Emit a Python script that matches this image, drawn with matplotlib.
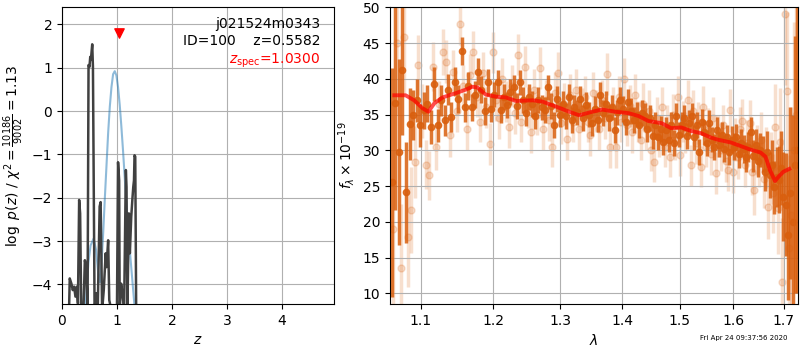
import matplotlib
matplotlib.use("Agg")
import matplotlib.pyplot as plt
import numpy as np

# p(z) from the fit (dark) and the prior-ish smooth curve (blue)
z_pz = [0.128, 0.141, 0.171, 0.196, 0.22, 0.245, 0.27, 0.29, 0.312, 0.33, 0.35, 0.39,
        0.416, 0.44, 0.465, 0.483, 0.50, 0.514, 0.526, 0.55, 0.563, 0.593, 0.62, 0.65,
        0.685, 0.703, 0.73, 0.76, 0.795, 0.81, 0.84, 0.86, 0.90, 1.0, 1.02, 1.04, 1.05,
        1.076, 1.10, 1.13, 1.162, 1.174, 1.19, 1.217, 1.235, 1.26, 1.28, 1.297, 1.31,
        1.32, 1.333, 1.35, 1.40]
logp = [-4.6, -3.86, -3.98, -4.13, -4.05, -4.28, -4.05, -4.44, -2.05, -2.36, -4.6, -4.6,
        -3.44, -3.6, -4.6, 1.06, 1.02, 1.25, 1.18, 1.54, 1.02, -4.6, -4.2, -4.6,
        -2.2, -2.1, -4.6, -4.13, -3.28, -3.6, -2.98, -4.36, -4.6, -4.6, -1.18, -1.6, -4.6,
        -3.98, -4.2, -4.6, -1.36, -1.75, -4.6, -2.36, -3.28, -2.44, -2.05, -1.75, -1.6,
        -1.02, -1.05, -4.6, -4.6]

z_prior = [0.40, 0.44, 0.48, 0.52, 0.575, 0.62, 0.66, 0.69, 0.72, 0.75, 0.78, 0.81,
           0.84, 0.87, 0.90, 0.93, 0.96, 0.99, 1.02, 1.05, 1.08, 1.11, 1.14, 1.17,
           1.20, 1.23, 1.26, 1.29, 1.32, 1.35]
logp_prior = [-4.9, -4.3, -3.5, -3.1, -2.94, -3.2, -3.75, -3.95, -3.5, -2.8, -2.0, -1.25,
              -0.5, 0.1, 0.55, 0.85, 0.92, 0.82, 0.55, 0.15, -0.35, -0.9, -1.5, -2.1,
              -2.65, -3.15, -3.6, -4.05, -4.5, -4.9]

z_best = 0.5582
z_spec = 1.03
chi2_num, chi2_den = 10186, 9002

# spectrum, two sets of grism pixels (G141 sampling)
wave_a = 1.0620 + 0.00465 * np.arange(144)
flux_a = [25.5, 36.6, 29.8, 41.2, 24.1, 33.7, 34.9, 37.0, 33.5, 35.6,
          36.5, 33.3, 39.3, 33.5, 37.0, 34.2, 38.5, 34.7, 39.6, 37.2,
          43.9, 36.0, 39.0, 36.0, 37.8, 41.0, 38.5, 35.5, 39.5, 35.8,
          37.8, 39.5, 35.6, 37.5, 36.3, 38.2, 38.8, 36.2, 39.5, 37.0,
          35.2, 37.5, 36.5, 34.8, 37.0, 36.0, 35.6, 38.8, 36.2, 33.5,
          37.2, 35.0, 36.5, 34.8, 37.5, 34.2, 36.0, 35.3, 37.2, 34.5,
          36.3, 35.0, 33.8, 35.8, 34.3, 37.8, 35.2, 36.5, 34.5, 36.0,
          32.8, 35.3, 37.0, 35.8, 34.0, 36.8, 35.5, 34.2, 35.0, 33.5,
          35.2, 34.8, 33.0, 34.5, 32.0, 33.5, 31.8, 33.0, 31.2, 32.8,
          31.5, 33.5, 31.0, 34.8, 32.2, 33.6, 34.5, 32.0, 33.8, 34.8,
          31.8, 33.5, 29.8, 34.0, 32.5, 31.0, 33.8, 31.5, 30.5, 32.8,
          30.8, 32.2, 30.2, 31.8, 29.8, 31.5, 30.5, 31.8, 29.5, 31.0,
          30.2, 29.0, 30.5, 32.5, 29.2, 30.8, 28.5, 30.0, 29.5, 27.0,
          29.8, 26.5, 28.0, 24.8, 26.3, 25.9, 27.5, 23.5, 22.4, 18.2,
          24.0, 20.0, 28.0, 30.0]
err_a = [16, 15, 13, 9, 7, 5, 3.5, 3, 3, 2.6,
         2.6, 2.4, 2.4, 2.3, 2.2, 2.2, 2.2, 2.1, 2.0, 2.0,
         2.0, 2.0, 2.0, 1.9, 1.9, 1.9, 1.9, 1.9, 1.9, 1.8,
         1.8, 1.8, 1.8, 1.8, 1.8, 1.8, 1.8, 1.8, 1.8, 1.8,
         1.8, 1.8, 1.8, 1.8, 1.8, 1.8, 1.8, 1.8, 1.8, 1.8,
         1.8, 1.8, 1.8, 1.8, 1.8, 1.8, 1.8, 1.8, 1.8, 1.8,
         1.8, 1.8, 1.8, 1.8, 1.8, 1.8, 1.8, 1.8, 1.8, 1.8,
         1.8, 1.8, 1.8, 1.8, 1.8, 1.8, 1.8, 1.8, 1.8, 1.8,
         1.8, 1.8, 1.8, 1.8, 1.8, 1.8, 1.8, 1.8, 1.8, 1.8,
         1.8, 1.8, 1.8, 1.8, 1.8, 1.8, 1.8, 1.8, 1.8, 1.8,
         1.8, 1.8, 1.8, 1.8, 1.8, 1.8, 1.8, 1.8, 1.8, 1.8,
         1.8, 1.8, 1.8, 1.8, 1.9, 1.9, 1.9, 1.9, 2.0, 2.0,
         2.0, 2.1, 2.1, 2.2, 2.2, 2.2, 2.3, 2.4, 2.5, 2.7,
         2.9, 3.2, 3.4, 3.7, 4.2, 4.7, 5.2, 6.2, 7.2, 9.2,
         12, 15, 18, 20]

wave_b = 1.0643 + 0.00465 * np.arange(143)
flux_b = [19.0, 45.0, 13.5, 45.8, 17.9, 21.6, 28.4, 42.0, 35.5, 28.0,
          26.5, 41.7, 30.5, 36.5, 43.8, 42.4, 32.1, 41.0, 35.5, 47.7,
          39.0, 33.0, 40.5, 43.7, 37.5, 34.0, 40.8, 36.0, 30.9, 43.7,
          37.0, 34.5, 40.0, 36.8, 33.2, 39.0, 35.2, 43.4, 34.0, 41.7,
          36.0, 32.5, 38.5, 35.0, 41.5, 33.0, 37.0, 34.2, 30.5, 38.0,
          40.8, 33.8, 36.5, 31.6, 37.8, 34.0, 38.5, 33.0, 35.8, 37.5,
          34.0, 32.1, 38.0, 35.5, 33.0, 37.0, 34.5, 40.7, 30.4, 36.0,
          30.4, 37.5, 34.0, 40.0, 33.5, 36.2, 32.5, 37.8, 34.0, 31.5,
          36.5, 33.0, 35.5, 30.0, 28.4, 34.5, 32.0, 36.0, 30.5, 33.5,
          29.1, 35.0, 31.5, 37.5, 29.3, 34.0, 32.5, 37.0, 27.9, 35.5,
          31.0, 33.8, 27.7, 36.1, 30.5, 33.0, 29.5, 34.5, 26.8, 32.0,
          30.0, 33.5, 28.5, 27.2, 35.6, 27.0, 31.5, 29.0, 33.0, 34.1,
          28.0, 31.0, 33.8, 27.0, 24.5, 30.0, 28.5, 31.5, 26.0, 29.0,
          22.1, 27.5, 24.0, 33.3, 22.0, 31.2, 11.6, 49.1, 38.3, 16.3,
          21.0, 30.0, 35.0]
err_b = [11, 10, 9, 8, 7, 6, 5, 4.2, 3.8, 3.4,
         3.4, 3.4, 3.3, 3.2, 3.2, 3.0, 3.0, 3.0, 3.0, 3.0,
         3.0, 3.0, 3.0, 3.0, 2.9, 2.9, 2.9, 2.9, 2.9, 2.9,
         2.9, 2.9, 2.9, 2.9, 2.9, 2.9, 2.9, 2.9, 2.9, 2.9,
         2.9, 2.9, 2.9, 2.9, 2.9, 2.9, 2.9, 2.9, 2.9, 2.9,
         2.9, 2.9, 2.9, 2.9, 2.9, 2.9, 2.9, 2.9, 2.9, 2.9,
         2.9, 2.9, 2.9, 2.9, 2.9, 2.9, 2.9, 2.9, 2.9, 2.9,
         2.9, 2.9, 2.9, 2.9, 2.9, 2.9, 2.9, 2.9, 2.9, 2.9,
         2.9, 2.9, 2.9, 2.9, 2.9, 2.9, 2.9, 2.9, 2.9, 2.9,
         2.9, 2.9, 2.9, 2.9, 2.9, 2.9, 2.9, 2.9, 2.9, 2.9,
         2.9, 2.9, 2.9, 2.9, 2.9, 2.9, 2.9, 2.9, 2.9, 2.9,
         2.9, 2.9, 2.9, 2.9, 3.0, 3.0, 3.0, 3.0, 3.1, 3.1,
         3.1, 3.2, 3.3, 3.3, 3.5, 3.5, 3.7, 3.8, 4.0, 4.3,
         4.5, 5.0, 5.5, 6.0, 6.5, 7.5, 9.0, 10, 11, 13,
         15, 18, 20]

# best-fit template
wave_model = [1.0655, 1.080, 1.091, 1.102, 1.110, 1.118, 1.129, 1.147, 1.161, 1.170,
              1.177, 1.189, 1.204, 1.218, 1.233, 1.258, 1.273, 1.294, 1.314, 1.330,
              1.351, 1.367, 1.389, 1.411, 1.428, 1.445, 1.468, 1.485, 1.503, 1.521,
              1.539, 1.557, 1.570, 1.595, 1.614, 1.633, 1.653, 1.663, 1.672, 1.682,
              1.689, 1.699, 1.711]
flux_model = [37.7, 37.7, 37.0, 35.9, 35.4, 36.6, 37.4, 38.0, 38.5, 38.9,
              38.8, 37.8, 37.5, 37.4, 36.9, 37.0, 36.8, 36.1, 35.4, 34.9,
              35.4, 35.7, 35.4, 35.2, 34.8, 34.1, 33.8, 33.1, 33.2, 32.7,
              32.4, 31.8, 31.5, 31.1, 30.6, 30.1, 29.7, 29.1, 27.2, 25.7,
              26.3, 27.0, 27.4]

wave_ticks = [1.1, 1.2, 1.3, 1.4, 1.5, 1.6, 1.7]

orange = '#d95f0e'

fig = plt.figure(figsize=(8, 3.5), dpi=100)
ax1 = fig.add_axes([0.0775, 0.1314, 0.34, 0.8486])
ax2 = fig.add_axes([0.4875, 0.1314, 0.51, 0.8486])

# left: log p(z)
ax1.plot(z_prior, logp_prior, color='#1f77b4', alpha=0.5, lw=1.5)
ax1.plot(z_pz, logp, color='0.25', lw=1.8)
ax1.scatter([z_spec], [1.8], marker='v', color='red', s=45, zorder=5)
ax1.text(0.95, 0.965, 'j021524m0343\nID={0}    z={1:.4f}'.format(100, z_best),
         transform=ax1.transAxes, ha='right', va='top', fontsize=10)
ax1.text(0.95, 0.85, r'$z_\mathrm{spec}$' + '={0:.4f}'.format(z_spec),
         transform=ax1.transAxes, ha='right', va='top', fontsize=10, color='red')
ax1.set_xlim(0, 4.95)
ax1.set_ylim(-4.45, 2.4)
ax1.set_xlabel(r'$z$')
ax1.set_ylabel(r'$\log\ p(z)$' + ' / ' + r'$\chi^2=\frac{%d}{%d}=%.2f$'
               % (chi2_num, chi2_den, chi2_num / chi2_den))
ax1.grid()

# right: spectrum
ax2.errorbar(wave_b, flux_b, yerr=err_b, fmt='o', color=orange, alpha=0.2,
             ms=5, lw=2.5, zorder=1)
ax2.errorbar(wave_a, flux_a, yerr=err_a, fmt='o', color=orange, alpha=0.85,
             ms=4.5, lw=2.5, zorder=2)
ax2.plot(wave_model, flux_model, color='red', alpha=0.7, lw=2.8, zorder=3)
ax2.set_xscale('log')
ax2.set_xlim(1.06, 1.729)
ax2.set_ylim(8.5, 50.05)
ax2.xaxis.set_minor_locator(matplotlib.ticker.NullLocator())
ax2.set_xticks(wave_ticks)
ax2.set_xticklabels(['{0:.1f}'.format(w) for w in wave_ticks])
ax2.set_yticks(np.arange(10, 51, 5))
ax2.set_xlabel(r'$\lambda$')
ax2.set_ylabel(r'$f_\lambda\times10^{-19}$')
ax2.grid()

fig.text(0.985, 0.025, 'Fri Apr 24 09:37:56 2020', ha='right', va='bottom', fontsize=5)

plt.savefig('out.png', dpi=100)
